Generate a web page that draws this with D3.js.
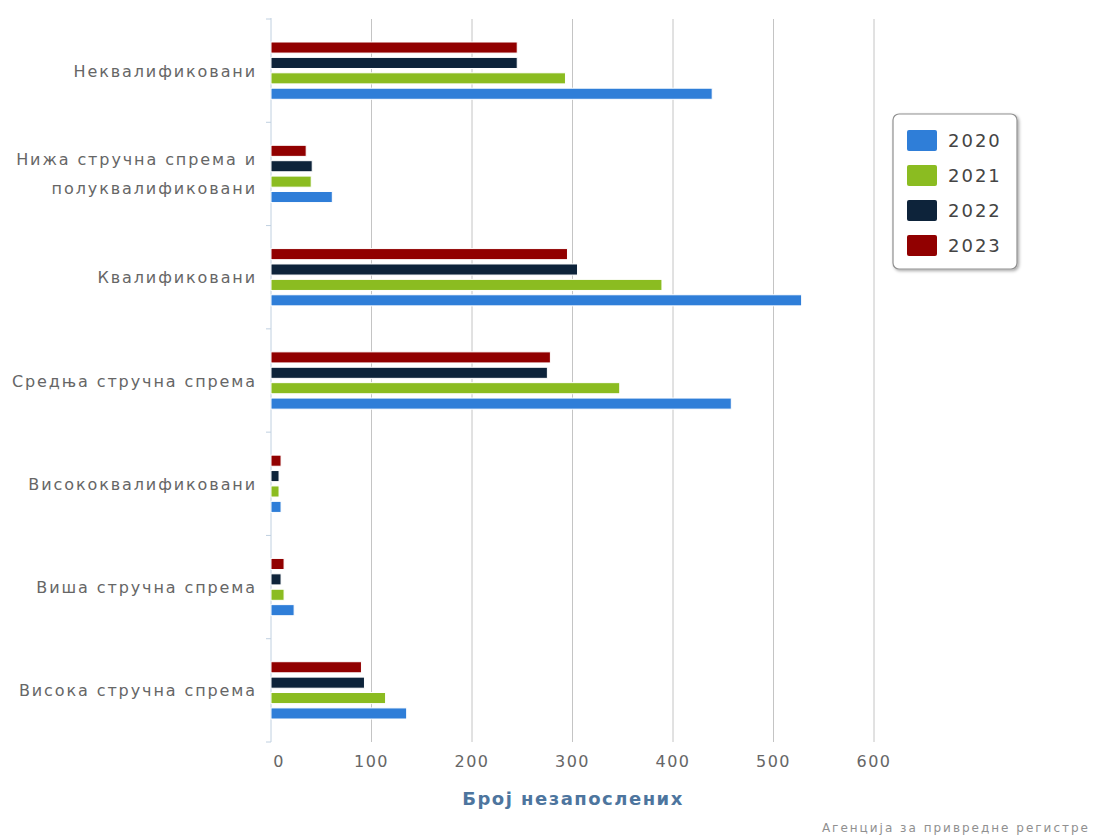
<!DOCTYPE html>
<html>
<head>
<meta charset="utf-8">
<script src="https://cdn.jsdelivr.net/npm/d3@7.9.0/dist/d3.min.js"></script>
<style>
  body { margin: 0; background: #fff; }
  svg { font-family: "DejaVu Sans", Verdana, sans-serif; }
</style>
</head>
<body>
<svg width="1094" height="838"></svg>
<script>
const categories = [
  'Неквалификовани',
  'Нижа стручна спрема и полуквалификовани',
  'Квалификовани',
  'Средња стручна спрема',
  'Висококвалификовани',
  'Виша стручна спрема',
  'Висока стручна спрема'
];
const years = ['2020', '2021', '2022', '2023'];
const values2020 = [439, 61, 528, 458, 10, 23, 135];
const values2021 = [293, 40, 389, 347, 8, 13, 114];
const values2022 = [245, 41, 305, 275, 8, 10, 93];
const values2023 = [245, 35, 295, 278, 10, 13, 90];
const xTicks = [0, 100, 200, 300, 400, 500, 600];
const colors = ['#2f7ed8', '#8bbc21', '#0d233a', '#910000'];

const series = [values2020, values2021, values2022, values2023];

const svg = d3.select('svg');
const margin = { left: 271, top: 19, right: 1094 - 877, bottom: 838 - 742 };
const width = 1094 - margin.left - margin.right;
const height = 838 - margin.top - margin.bottom;

const g = svg.append('g').attr('transform', `translate(${margin.left},${margin.top})`);

const x = d3.scaleLinear().domain([0, 600]).range([0, 603]);
const y = d3.scaleBand().domain(categories).range([0, height]);
// bars drawn top to bottom: 2023, 2022, 2021, 2020
const inner = d3.scaleBand().domain(years.slice().reverse()).range([23, y.bandwidth() - 23]).paddingInner(0.28);

// grid lines
g.selectAll('.grid')
  .data(xTicks.slice(1))
  .join('line')
  .attr('x1', d => x(d)).attr('x2', d => x(d))
  .attr('y1', 0).attr('y2', height)
  .attr('stroke', '#c4c4c4').attr('stroke-width', 1);

// left axis line with ticks at band edges
g.append('line')
  .attr('x1', 0).attr('x2', 0).attr('y1', -1).attr('y2', height)
  .attr('stroke', '#c0d0e0');
g.selectAll('.ytick')
  .data(d3.range(categories.length + 1))
  .join('line')
  .attr('x1', -5).attr('x2', 0)
  .attr('y1', d => d * y.step()).attr('y2', d => d * y.step())
  .attr('stroke', '#c0d0e0');

// bars
years.forEach((yr, si) => {
  g.selectAll('.bar' + yr)
    .data(series[si])
    .join('rect')
    .attr('x', 0)
    .attr('y', (d, i) => y(categories[i]) + inner(yr))
    .attr('width', d => x(d))
    .attr('height', inner.bandwidth())
    .attr('fill', colors[si])
    .attr('stroke', '#fff').attr('stroke-width', 1);
});

// category labels
const labels = g.selectAll('.cat')
  .data(categories)
  .join('text')
  .attr('text-anchor', 'end')
  .attr('fill', '#666')
  .attr('font-size', 16)
  .attr('letter-spacing', 1.9);
labels.each(function (d) {
  const t = d3.select(this);
  const cy = y(d) + y.bandwidth() / 2;
  const lines = d === 'Нижа стручна спрема и полуквалификовани'
    ? ['Нижа стручна спрема и', 'полуквалификовани'] : [d];
  lines.forEach((ln, k) => {
    t.append('tspan')
      .attr('x', -14)
      .attr('y', cy + 6 + (k - (lines.length - 1) / 2) * 29)
      .text(ln);
  });
});

// x tick labels
g.selectAll('.xlab')
  .data(xTicks)
  .join('text')
  .attr('x', d => x(d) + (d === 0 ? 8 : 0))
  .attr('y', height + 25)
  .attr('text-anchor', 'middle')
  .attr('fill', '#666')
  .attr('font-size', 16)
  .attr('letter-spacing', 1.5)
  .text(d => d);

// axis title
g.append('text')
  .attr('x', 302)
  .attr('y', height + 63)
  .attr('text-anchor', 'middle')
  .attr('fill', '#4d759e')
  .attr('font-size', 18)
  .attr('font-weight', 'bold')
  .attr('letter-spacing', 1.5)
  .text('Број незапослених');

// legend
const defs = svg.append('defs');
const f = defs.append('filter').attr('id', 'shadow').attr('x', '-10%').attr('y', '-10%').attr('width', '130%').attr('height', '130%');
f.append('feDropShadow').attr('dx', 1.5).attr('dy', 1.5).attr('stdDeviation', 1.5).attr('flood-color', '#000').attr('flood-opacity', 0.35);

const legend = svg.append('g').attr('transform', 'translate(893,114)');
legend.append('rect')
  .attr('width', 124).attr('height', 155)
  .attr('rx', 6).attr('ry', 6)
  .attr('fill', '#fff').attr('stroke', '#909090').attr('stroke-width', 1.2)
  .attr('filter', 'url(#shadow)');
const li = legend.selectAll('.item')
  .data(years)
  .join('g')
  .attr('transform', (d, i) => `translate(14,${16 + i * 35})`);
li.append('rect')
  .attr('width', 30).attr('height', 21)
  .attr('rx', 2)
  .attr('fill', (d, i) => colors[i]);
li.append('text')
  .attr('x', 41).attr('y', 17)
  .attr('font-size', 18)
  .attr('letter-spacing', 2)
  .attr('fill', '#444')
  .text(d => d);

// credits
svg.append('text')
  .attr('x', 1090).attr('y', 832)
  .attr('text-anchor', 'end')
  .attr('font-size', 12)
  .attr('letter-spacing', 2)
  .attr('fill', '#909090')
  .text('Агенција за привредне регистре');
</script>
</body>
</html>
